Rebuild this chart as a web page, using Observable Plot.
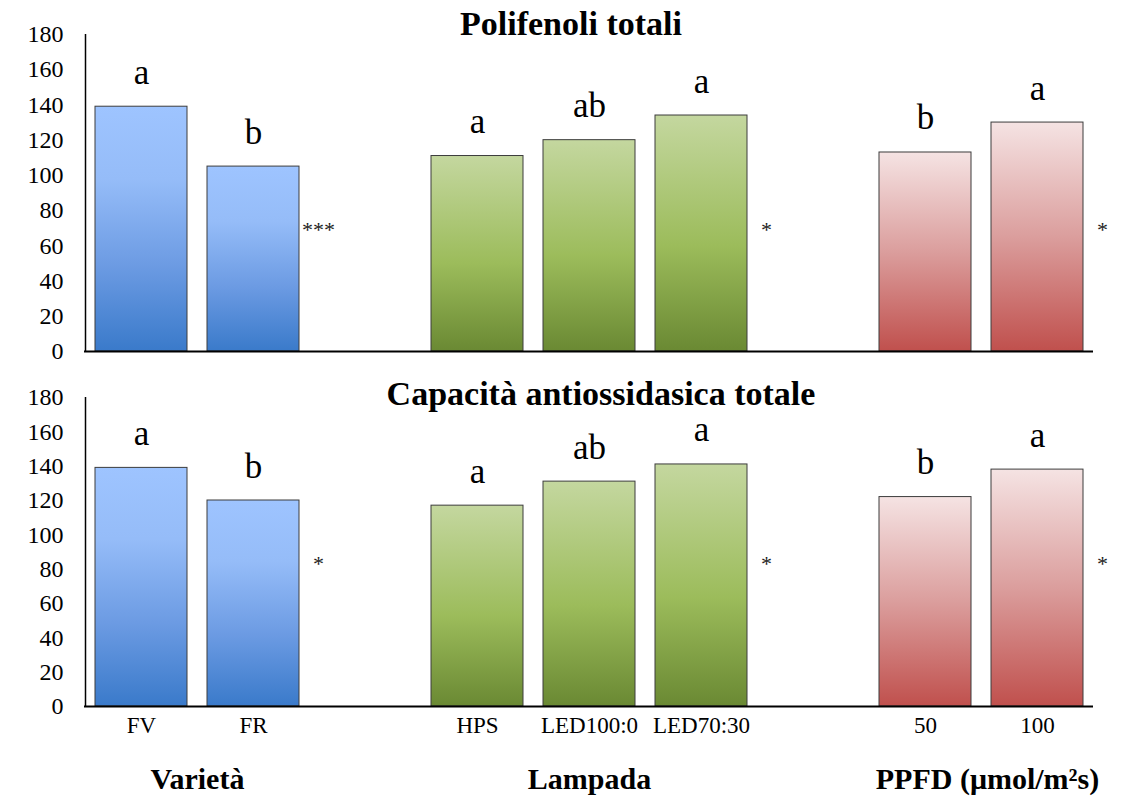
<!DOCTYPE html>
<html>
<head>
<meta charset="utf-8">
<script src="https://cdn.jsdelivr.net/npm/d3@7"></script>
<script src="https://cdn.jsdelivr.net/npm/@observablehq/plot@0.6"></script>
<style>
  html, body { margin: 0; padding: 0; background: #fff; }
  #chart svg { display: block; overflow: visible; }
  #chart svg text { font-family: "Liberation Serif", "Times New Roman", serif !important; }
</style>
</head>
<body>
<svg width="0" height="0" style="position:absolute">
  <defs>
    <linearGradient id="gBlue" x1="0" y1="0" x2="0" y2="1">
      <stop offset="0" stop-color="#9EC4FF"/>
      <stop offset="0.3" stop-color="#95BCF8"/>
      <stop offset="0.65" stop-color="#6C9BE3"/>
      <stop offset="1" stop-color="#3A7ACA"/>
    </linearGradient>
    <linearGradient id="gGreen" x1="0" y1="0" x2="0" y2="1">
      <stop offset="0" stop-color="#C4D79F"/>
      <stop offset="0.55" stop-color="#9CBC5B"/>
      <stop offset="1" stop-color="#6A8933"/>
    </linearGradient>
    <linearGradient id="gRed" x1="0" y1="0" x2="0" y2="1">
      <stop offset="0" stop-color="#F5E3E3"/>
      <stop offset="0.5" stop-color="#DB9E9D"/>
      <stop offset="1" stop-color="#C0504D"/>
    </linearGradient>
  </defs>
</svg>
<div id="chart"></div>
<script>
// ---- data ----
const slots = ["FV", "FR", " ", "HPS", "LED100:0", "LED70:30", "  ", "50", "100"];
const categories = ["FV", "FR", "HPS", "LED100:0", "LED70:30", "50", "100"];
const groups = ["Varietà", "Varietà", "Lampada", "Lampada", "Lampada", "PPFD", "PPFD"];
const polifenoli = [139, 105, 111, 120, 134, 113, 130];
const capacita = [139, 120, 117, 131, 141, 122, 138];
const lettersTop = ["a", "b", "a", "ab", "a", "b", "a"];
const lettersBottom = ["a", "b", "a", "ab", "a", "b", "a"];
const sigCategories = ["FR", "LED70:30", "100"];
const sigTop = ["***", "*", "*"];
const sigBottom = ["*", "*", "*"];
const sigLevelTop = 69;
const sigLevelBottom = 83;
const yTicks = [0, 20, 40, 60, 80, 100, 120, 140, 160, 180];
const titles = ["Polifenoli totali", "Capacità antiossidasica totale"];
const groupLabels = ["Varietà", "Lampada", "PPFD (μmol/m²s)"];
const groupAnchors = ["FV", "LED100:0", "50"];

const fills = {"Varietà": "url(#gBlue)", "Lampada": "url(#gGreen)", "PPFD": "url(#gRed)"};
const groupDx = [56, 0, 62];
const font = "'Liberation Serif', 'Times New Roman', serif";

function panel({values, letters, sig, sigLevel, title, titleDx, titleDy, height, marginTop, marginBottom, showX}) {
  const rows = categories.map((c, i) => ({cat: c, group: groups[i], value: values[i], letter: letters[i]}));
  const sigRows = sigCategories.map((c, i) => ({cat: c, label: sig[i], level: sigLevel}));
  const marks = [];
  for (const g of ["Varietà", "Lampada", "PPFD"]) {
    marks.push(Plot.barY(rows.filter(d => d.group === g), {
      x: "cat", y: "value", fill: fills[g], stroke: "#3c3c3c", strokeWidth: 1,
      insetLeft: 10, insetRight: 10
    }));
  }
  marks.push(
    Plot.ruleY([0], {stroke: "#000", strokeWidth: 2}),
    Plot.ruleX(["FV"], {dx: -56, stroke: "#000", strokeWidth: 1.5}),
    Plot.axisY({ticks: yTicks, tickSize: 0, tickPadding: 21, fontSize: 24, fontFamily: font, label: null}),
    Plot.text(rows, {x: "cat", y: "value", text: "letter", lineAnchor: "bottom", dy: -23, fontSize: 35, fontFamily: font, fill: "#000"}),
    Plot.text(sigRows, {x: "cat", y: "level", text: "label", dx: 65, fontSize: 22, fontFamily: font, fill: "#222"}),
    Plot.text([title], {frameAnchor: "top", dx: titleDx, dy: titleDy, fontSize: 34, fontWeight: "bold", fontFamily: font, fill: "#000"})
  );
  if (showX) {
    marks.push(Plot.axisX({tickSize: 0, tickPadding: 10, fontSize: 23, fontFamily: font, label: null, tickFormat: d => d.trim()}));
    groupLabels.forEach((lab, i) => {
      marks.push(Plot.text([lab], {x: [groupAnchors[i]], text: d => d, frameAnchor: "bottom",
        dx: groupDx[i], dy: 82, fontSize: 30, fontWeight: "bold", fontFamily: font, fill: "#000"}));
    });
  } else {
    marks.push(Plot.axisX({ticks: [], label: null}));
  }
  return Plot.plot({
    width: 1140, height, marginLeft: 84, marginRight: 47, marginTop, marginBottom,
    style: {fontFamily: font, color: "#000", background: "transparent"},
    x: {domain: slots, padding: 0},
    y: {domain: [0, 180]},
    marks
  });
}

const topPanel = panel({values: polifenoli, letters: lettersTop, sig: sigTop, sigLevel: sigLevelTop,
  title: titles[0], titleDx: -18, titleDy: -24, height: 366, marginTop: 34, marginBottom: 15, showX: false});
const bottomPanel = panel({values: capacita, letters: lettersBottom, sig: sigBottom, sigLevel: sigLevelBottom,
  title: titles[1], titleDx: 12, titleDy: -17, height: 431, marginTop: 31, marginBottom: 91, showX: true});

document.getElementById("chart").append(topPanel, bottomPanel);
</script>
</body>
</html>
